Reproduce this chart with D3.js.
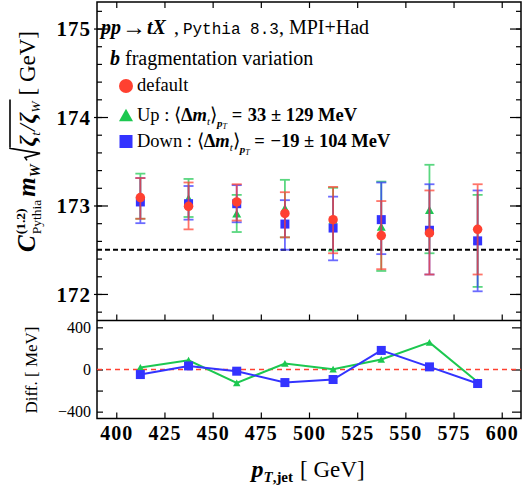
<!DOCTYPE html>
<html><head><meta charset="utf-8">
<script src="https://cdn.jsdelivr.net/npm/d3@7"></script>
<style>body{margin:0;background:#fff}svg{display:block}</style>
</head><body><svg id="c" width="529" height="488"></svg>
<script>
// ---------------- data ----------------
const ptBins = [412.5, 437.5, 462.5, 487.5, 512.5, 537.5, 562.5, 587.5];
const defVal  = [173.09, 172.99, 173.04, 172.91, 172.84, 172.66, 172.69, 172.73];
const defLo   = [172.85, 172.73, 172.83, 172.64, 172.46, 172.28, 172.22, 172.22];
const defHi   = [173.31, 173.26, 173.24, 173.15, 173.21, 173.05, 173.17, 173.24];
const upVal   = [173.11, 173.08, 172.91, 172.97, 172.84, 172.76, 172.95, 172.61];
const upLo    = [172.85, 172.87, 172.70, 172.64, 172.49, 172.26, 172.46, 172.08];
const upHi    = [173.36, 173.30, 173.12, 173.29, 173.20, 173.27, 173.46, 173.12];
const downVal = [173.04, 173.02, 173.02, 172.79, 172.745, 172.84, 172.72, 172.60];
const downLo  = [172.80, 172.84, 172.81, 172.50, 172.38, 172.45, 172.22, 172.03];
const downHi  = [173.31, 173.22, 173.23, 173.06, 173.10, 173.26, 173.24, 173.17];
const upDiff   = [19, 88, -127, 57, 3, 95, 257, -118];
const downDiff = [-48, 34, -16, -124, -95, 181, 25, -133];
const refLine = 172.5;
const xTicks = [400, 425, 450, 475, 500, 525, 550, 575, 600];
const yTicks = [172, 173, 174, 175];
const yDiffTicks = [-400, -200, 0, 200, 400];
const yDiffLabels = [-400, 0, 400];

// ---------------- setup ----------------
const SERIF = "'Liberation Serif', 'Times New Roman', serif";
const MONO = "'Liberation Mono', monospace";
const RED = "#ff4030", GREEN = "#1cc850", BLUE = "#3333ff";
const svg = d3.select('#c');
const L = 97, R = 521, T = 2, MID = 320.5, B = 418.5;
const x = d3.scaleLinear().domain([390, 610]).range([L, R]);
const y = d3.scaleLinear().domain([171.7, 175.3]).range([MID, T]);
const yd = d3.scaleLinear().domain([-465, 465]).range([B, MID]);

function styleAxis(g){ g.select('.domain').remove(); g.selectAll('.tick line').attr('stroke','#000').attr('stroke-width',1.2); }
const minor = d3.range(171.8, 175.21, 0.2).map(v => +v.toFixed(1));

// top panel left
svg.append('g').attr('transform',`translate(${L},0)`)
  .call(d3.axisLeft(y).tickValues(minor).tickSize(-5).tickFormat(''))
  .call(styleAxis);
svg.append('g').attr('transform',`translate(${L},0)`)
  .call(d3.axisLeft(y).tickValues(yTicks).tickSize(-11).tickPadding(6).tickFormat(d3.format('d')))
  .call(styleAxis)
  .call(g => g.selectAll('text').attr('font-family',SERIF).attr('font-weight','bold')
    .attr('font-size',21).attr('letter-spacing',1).attr('fill','#000').attr('dy','0.34em'));
svg.append('g').attr('transform',`translate(${L},0)`)
  .call(d3.axisLeft(y).tickValues(yTicks).tickSize(3).tickFormat(''))
  .call(styleAxis);
// top panel right
svg.append('g').attr('transform',`translate(${R},0)`)
  .call(d3.axisRight(y).tickValues(minor).tickSize(-5).tickFormat(''))
  .call(styleAxis);
svg.append('g').attr('transform',`translate(${R},0)`)
  .call(d3.axisRight(y).tickValues(yTicks).tickSize(-11).tickFormat(''))
  .call(styleAxis);
// top edge and middle x ticks
svg.append('g').attr('transform',`translate(0,${T})`)
  .call(d3.axisTop(x).tickValues(xTicks).tickSize(-6).tickFormat('')).call(styleAxis);
svg.append('g').attr('transform',`translate(0,${MID})`)
  .call(d3.axisBottom(x).tickValues(xTicks).tickSize(-6).tickFormat('')).call(styleAxis);
// bottom panel x axis
svg.append('g').attr('transform',`translate(0,${B})`)
  .call(d3.axisBottom(x).tickValues(xTicks).tickSize(-6).tickPadding(7).tickFormat(d3.format('d')))
  .call(styleAxis)
  .call(g => g.selectAll('text').attr('font-family',SERIF).attr('font-weight','bold')
    .attr('font-size',20).attr('letter-spacing',1).attr('fill','#000'));
// bottom panel y axis
svg.append('g').attr('transform',`translate(${L},0)`)
  .call(d3.axisLeft(yd).tickValues(yDiffTicks).tickSize(-6).tickPadding(6)
    .tickFormat(d => yDiffLabels.includes(d) ? d3.format('d')(d) : ''))
  .call(styleAxis)
  .call(g => g.selectAll('text').attr('font-family',SERIF).attr('font-size',16).attr('fill','#000'));
svg.append('g').attr('transform',`translate(${R},0)`)
  .call(d3.axisRight(yd).tickValues(yDiffTicks).tickSize(-9).tickFormat(''))
  .call(styleAxis);

// frames
svg.append('rect').attr('x',L).attr('y',T).attr('width',R-L).attr('height',B-T)
  .attr('fill','none').attr('stroke','#000').attr('stroke-width',1.5);
svg.append('line').attr('x1',L).attr('x2',R).attr('y1',MID).attr('y2',MID)
  .attr('stroke','#000').attr('stroke-width',1.5);

// reference lines
svg.append('line').attr('x1',L).attr('x2',R).attr('y1',y(refLine)).attr('y2',y(refLine))
  .attr('stroke','#000').attr('stroke-width',2).attr('stroke-dasharray','5,3');
svg.append('line').attr('x1',L).attr('x2',R).attr('y1',yd(0)).attr('y2',yd(0))
  .attr('stroke',RED).attr('stroke-width',1.5).attr('stroke-dasharray','5,4');

// markers
function triPath(cx, cy, w, h){ return `M${cx-w/2},${cy+h/2}L${cx+w/2},${cy+h/2}L${cx},${cy-h/2}Z`; }
function marker(g, type, cx, cy, sz, color){
  if(type==='c') g.append('circle').attr('cx',cx).attr('cy',cy).attr('r',sz/2).attr('fill',color);
  else if(type==='s') g.append('rect').attr('x',cx-sz/2).attr('y',cy-sz/2).attr('width',sz).attr('height',sz).attr('fill',color);
  else g.append('path').attr('d',triPath(cx,cy,sz,sz*0.9)).attr('fill',color);
}

const series = [
  {val: upVal, lo: upLo, hi: upHi, color: GREEN, type: 't', sz: 9},
  {val: downVal, lo: downLo, hi: downHi, color: BLUE, type: 's', sz: 9},
  {val: defVal, lo: defLo, hi: defHi, color: RED, type: 'c', sz: 9.5},
];
const dataG = svg.append('g');
series.forEach(s => {
  const g = dataG.append('g');
  ptBins.forEach((p, i) => {
    const cx = x(p);
    const eb = g.append('g').attr('stroke',s.color).attr('stroke-width',1.8).attr('opacity',0.72);
    eb.append('line').attr('x1',cx).attr('x2',cx).attr('y1',y(s.lo[i])).attr('y2',y(s.hi[i]));
    eb.append('line').attr('x1',cx-5).attr('x2',cx+5).attr('y1',y(s.lo[i])).attr('y2',y(s.lo[i]));
    eb.append('line').attr('x1',cx-5).attr('x2',cx+5).attr('y1',y(s.hi[i])).attr('y2',y(s.hi[i]));
  });
  ptBins.forEach((p, i) => marker(g, s.type, x(p), y(s.val[i]), s.sz, s.color));
});

// difference panel
const line = d3.line().x((d,i) => x(ptBins[i])).y(d => yd(d));
svg.append('path').datum(upDiff).attr('d',line).attr('fill','none').attr('stroke',GREEN).attr('stroke-width',2);
upDiff.forEach((d,i) => marker(svg, 't', x(ptBins[i]), yd(d), 7.5, GREEN));
svg.append('path').datum(downDiff).attr('d',line).attr('fill','none').attr('stroke',BLUE).attr('stroke-width',2);
downDiff.forEach((d,i) => marker(svg, 's', x(ptBins[i]), yd(d), 9, BLUE));

// rich text helper
function rich(parent, segs, start){
  let cx = start || 0, lastX0 = cx;
  segs.forEach(s => {
    const sx = s.stack ? lastX0 : cx + (s.dx || 0);
    const t = parent.append('text').attr('x', sx).attr('y', s.dy || 0)
      .attr('font-family', s.f || SERIF).attr('font-size', s.s)
      .attr('font-weight', s.b ? 'bold' : 'normal').attr('font-style', s.i ? 'italic' : 'normal')
      .attr('fill', '#000').style('white-space','pre').text(s.t);
    const w = t.node().getComputedTextLength();
    lastX0 = sx;
    cx = Math.max(cx, sx + w);
  });
  return cx;
}

// title & legend
const tg = svg.append('g').attr('transform','translate(101,34)');
rich(tg, [
  {t:'pp', s:20, b:1, i:1}, {t:'→', s:24, dx:1, dy:1}, {t:'tX', s:20, b:1, i:1, dx:1},
  {t:' ,', s:20, dx:3}, {t:'Pythia 8.3', s:16, f:MONO, dx:4}, {t:',', s:20}, {t:' MPI+Had', s:20}
]);
const lg = svg.append('g').attr('transform','translate(110,65)');
rich(lg, [{t:'b', s:20, b:1, i:1}, {t:' fragmentation variation', s:20}]);

marker(svg, 'c', 126, 86, 14, RED);
marker(svg, 't', 126, 115, 14, GREEN);
marker(svg, 's', 126, 141.5, 13, BLUE);
svg.append('text').attr('x',137).attr('y',91).attr('font-family',SERIF).attr('font-size',18.5).text('default');
function deltaEntry(yb, label, value){
  const g = svg.append('g').attr('transform',`translate(137,${yb})`);
  rich(g, [
    {t:label + ' : ', s:18.5}, {t:'⟨', s:18.5}, {t:'Δ', s:18.5, b:1}, {t:'m', s:18.5, b:1, i:1},
    {t:'t', s:11, i:1, dy:4}, {t:'⟩', s:18.5}, {t:'p', s:11, b:1, i:1, dy:6}, {t:'T', s:8, i:1, dy:8},
    {t:' = ', s:18.5, b:1}, {t:value, s:18.5, b:1, dx:1}
  ]);
}
deltaEntry(121, 'Up', '33 ± 129 MeV');
deltaEntry(147, 'Down', '−19 ± 104 MeV');

// y label (rotated)
const yl = svg.append('g');
const ylIn = yl.append('g');
let ex = rich(ylIn, [
  {t:'C', s:25, b:1, i:1},
  {t:'(1.2)', s:13.5, b:1, dy:-10, dx:1},
  {t:'Pythia', s:13.5, dy:6, stack:1},
  {t:'m', s:25, b:1, i:1, dx:3},
  {t:'W', s:14.5, b:1, i:1, dy:5}
]);
const sq0 = ex + 4;
const sq1 = sq0 + 13;
ylIn.append('path').attr('d',`M${sq0},-8L${sq0+3},-10L${sq0+7},5L${sq0+12},-25L${sq0+13},-25`)
  .attr('fill','none').attr('stroke','#000').attr('stroke-width',1.6);
ex = rich(ylIn, [
  {t:'ζ', s:24, i:1, b:1, dx:1},
  {t:'t', s:13.5, i:1, dy:5},
  {t:'/', s:24, i:1, dx:1},
  {t:'ζ', s:24, i:1, b:1, dx:1},
  {t:'W', s:13.5, i:1, dy:5}
], sq1);
ylIn.append('line').attr('x1',sq1).attr('x2',ex + 2).attr('y1',-25).attr('y2',-25)
  .attr('stroke','#000').attr('stroke-width',1.6);
ex = rich(ylIn, [{t:'[', s:23, dx:6}, {t:' GeV]', s:23}], ex);
yl.attr('transform',`translate(35,${(250 + 33) / 2}) rotate(-90)`);
ylIn.attr('transform',`translate(${-ex/2},0)`);

// diff label
svg.append('text').attr('transform','translate(37,370) rotate(-90)').attr('text-anchor','middle')
  .attr('font-family',SERIF).attr('font-size',17).style('white-space','pre').text('Diff. [ MeV]');

// x label
const xl = svg.append('g');
const xlIn = xl.append('g');
const xw = rich(xlIn, [
  {t:'p', s:24, b:1, i:1},
  {t:'T', s:15, b:1, i:1, dy:5},
  {t:',jet', s:15, b:1, dy:5},
  {t:'[', s:23, dx:7}, {t:' GeV]', s:23}
]);
xl.attr('transform',`translate(${308 - xw/2},477)`);
</script></body></html>
